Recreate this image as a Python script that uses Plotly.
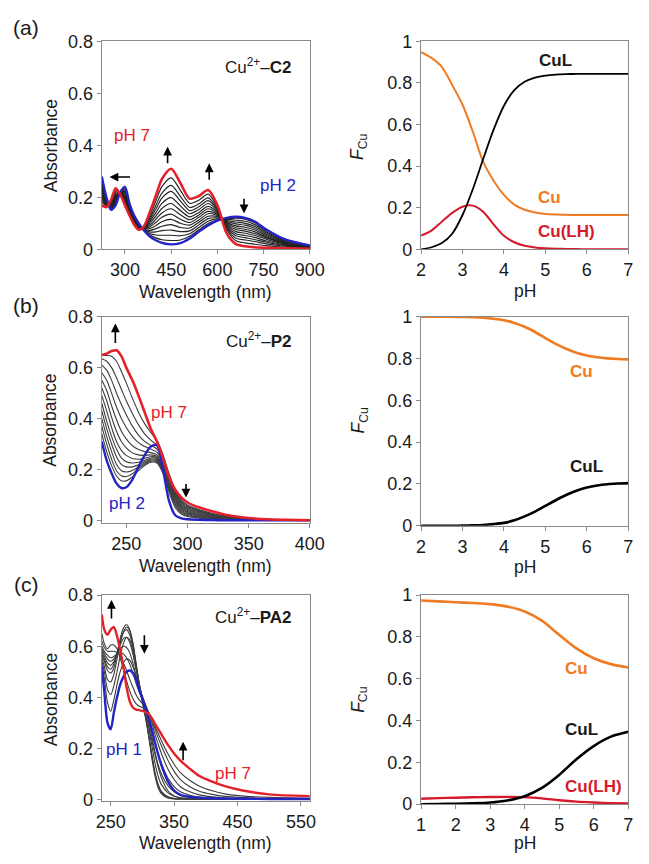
import plotly.graph_objects as go

W, H = 649, 864
FONT = "Liberation Sans, Arial, Helvetica, sans-serif"

# ---------------- (a) Cu2+-C2 spectra ----------------
wl_a = [225, 240, 255, 270, 285, 300, 315, 330, 345, 360, 380, 400, 420, 450, 480, 510,
        540, 570, 600, 630, 660, 690, 720, 760, 820, 900]
abs_a_ph7 = [0.17, 0.162, 0.19, 0.235, 0.21, 0.17, 0.13, 0.095, 0.075, 0.085, 0.14, 0.205, 0.27,
             0.31, 0.255, 0.195, 0.205, 0.228, 0.17, 0.062, 0.02, 0.012, 0.008, 0.006, 0.004, 0.002]
abs_a_ph2 = [0.28, 0.2, 0.152, 0.17, 0.22, 0.24, 0.175, 0.13, 0.1, 0.075, 0.05, 0.035, 0.025,
             0.019, 0.024, 0.042, 0.068, 0.092, 0.11, 0.121, 0.125, 0.121, 0.108, 0.075, 0.038, 0.015]
abs_a_mid = [
    [0.274, 0.198, 0.154, 0.173, 0.22, 0.237, 0.173, 0.128, 0.099, 0.076, 0.055, 0.044, 0.037, 0.034, 0.036, 0.05, 0.075, 0.099, 0.113, 0.118, 0.12, 0.116, 0.103, 0.072, 0.036, 0.014],
    [0.267, 0.195, 0.157, 0.178, 0.219, 0.232, 0.17, 0.126, 0.097, 0.076, 0.061, 0.055, 0.054, 0.054, 0.052, 0.06, 0.084, 0.108, 0.117, 0.115, 0.112, 0.108, 0.096, 0.067, 0.034, 0.013],
    [0.259, 0.193, 0.159, 0.182, 0.218, 0.227, 0.166, 0.123, 0.095, 0.077, 0.067, 0.067, 0.072, 0.074, 0.068, 0.071, 0.094, 0.118, 0.121, 0.111, 0.105, 0.1, 0.089, 0.062, 0.032, 0.013],
    [0.251, 0.19, 0.162, 0.187, 0.217, 0.222, 0.163, 0.121, 0.094, 0.078, 0.073, 0.079, 0.089, 0.095, 0.084, 0.082, 0.104, 0.127, 0.126, 0.108, 0.098, 0.093, 0.082, 0.057, 0.029, 0.012],
    [0.244, 0.187, 0.165, 0.192, 0.217, 0.217, 0.16, 0.118, 0.092, 0.078, 0.08, 0.091, 0.106, 0.115, 0.1, 0.093, 0.113, 0.137, 0.13, 0.104, 0.09, 0.085, 0.075, 0.052, 0.027, 0.011],
    [0.236, 0.185, 0.167, 0.196, 0.216, 0.212, 0.157, 0.116, 0.09, 0.079, 0.086, 0.103, 0.123, 0.135, 0.116, 0.103, 0.123, 0.146, 0.134, 0.101, 0.083, 0.077, 0.068, 0.047, 0.024, 0.01],
    [0.228, 0.182, 0.17, 0.201, 0.215, 0.207, 0.154, 0.114, 0.088, 0.08, 0.092, 0.115, 0.14, 0.156, 0.133, 0.114, 0.132, 0.156, 0.138, 0.097, 0.076, 0.07, 0.061, 0.043, 0.022, 0.009],
    [0.221, 0.18, 0.173, 0.205, 0.215, 0.202, 0.151, 0.111, 0.087, 0.08, 0.099, 0.127, 0.157, 0.176, 0.149, 0.125, 0.142, 0.165, 0.142, 0.094, 0.068, 0.062, 0.054, 0.038, 0.02, 0.008],
    [0.212, 0.176, 0.176, 0.21, 0.214, 0.197, 0.147, 0.108, 0.085, 0.081, 0.106, 0.14, 0.177, 0.199, 0.167, 0.137, 0.153, 0.176, 0.147, 0.089, 0.06, 0.053, 0.046, 0.032, 0.017, 0.007],
    [0.203, 0.173, 0.179, 0.216, 0.213, 0.191, 0.144, 0.106, 0.083, 0.082, 0.113, 0.154, 0.197, 0.223, 0.186, 0.149, 0.164, 0.187, 0.152, 0.085, 0.052, 0.045, 0.038, 0.027, 0.014, 0.006],
    [0.194, 0.17, 0.182, 0.221, 0.212, 0.185, 0.14, 0.103, 0.081, 0.083, 0.12, 0.168, 0.216, 0.246, 0.204, 0.161, 0.175, 0.198, 0.157, 0.081, 0.043, 0.036, 0.03, 0.021, 0.012, 0.005],
    [0.183, 0.167, 0.185, 0.227, 0.211, 0.178, 0.135, 0.099, 0.078, 0.084, 0.129, 0.185, 0.241, 0.275, 0.227, 0.177, 0.189, 0.212, 0.163, 0.076, 0.033, 0.025, 0.02, 0.014, 0.008, 0.004],
]

# ---------------- (b) Cu2+-P2 spectra ----------------
wl_b = [230, 234, 238, 242, 246, 250, 255, 260, 265, 270, 275, 280, 285, 290, 295, 300,
        310, 320, 330, 340, 350, 365, 380, 400]
abs_b_ph7 = [0.65, 0.655, 0.665, 0.668, 0.645, 0.6, 0.55, 0.49, 0.425, 0.36, 0.31, 0.245, 0.17,
             0.12, 0.09, 0.07, 0.05, 0.036, 0.023, 0.015, 0.009, 0.004, 0.002, 0.0]
abs_b_ph2 = [0.31, 0.235, 0.185, 0.145, 0.127, 0.13, 0.16, 0.21, 0.255, 0.29, 0.295, 0.2, 0.075,
             0.02, 0.008, 0.004, 0.002, 0.001, 0.0, 0.0, 0.0, 0.0, 0.0, 0.0]
abs_b_mid = [
    [0.34, 0.27, 0.215, 0.175, 0.155, 0.155, 0.17, 0.195, 0.215, 0.228, 0.225, 0.185, 0.11, 0.05, 0.025, 0.015, 0.008, 0.005, 0.003, 0.002, 0.001, 0.0, 0.0, 0.0],
    [0.37, 0.3, 0.24, 0.195, 0.175, 0.172, 0.183, 0.203, 0.22, 0.232, 0.23, 0.19, 0.118, 0.058, 0.03, 0.019, 0.011, 0.007, 0.004, 0.003, 0.002, 0.001, 0.0, 0.0],
    [0.4, 0.33, 0.27, 0.22, 0.195, 0.19, 0.196, 0.21, 0.225, 0.236, 0.234, 0.195, 0.125, 0.065, 0.035, 0.023, 0.013, 0.008, 0.005, 0.004, 0.002, 0.001, 0.0, 0.0],
    [0.43, 0.36, 0.3, 0.25, 0.22, 0.21, 0.21, 0.218, 0.23, 0.24, 0.238, 0.2, 0.132, 0.072, 0.04, 0.027, 0.016, 0.01, 0.006, 0.004, 0.003, 0.001, 0.0, 0.0],
    [0.46, 0.39, 0.33, 0.28, 0.245, 0.23, 0.225, 0.228, 0.236, 0.245, 0.242, 0.205, 0.138, 0.078, 0.045, 0.031, 0.019, 0.012, 0.008, 0.005, 0.003, 0.001, 0.0, 0.0],
    [0.49, 0.43, 0.365, 0.31, 0.275, 0.255, 0.243, 0.24, 0.244, 0.25, 0.247, 0.21, 0.145, 0.085, 0.05, 0.035, 0.022, 0.014, 0.009, 0.006, 0.004, 0.002, 0.001, 0.0],
    [0.52, 0.47, 0.405, 0.35, 0.31, 0.285, 0.265, 0.257, 0.255, 0.257, 0.252, 0.215, 0.15, 0.09, 0.055, 0.039, 0.025, 0.016, 0.01, 0.007, 0.004, 0.002, 0.001, 0.0],
    [0.55, 0.51, 0.45, 0.395, 0.35, 0.32, 0.293, 0.278, 0.27, 0.266, 0.258, 0.222, 0.157, 0.096, 0.06, 0.043, 0.028, 0.018, 0.012, 0.008, 0.005, 0.002, 0.001, 0.0],
    [0.58, 0.55, 0.5, 0.445, 0.4, 0.365, 0.33, 0.305, 0.29, 0.28, 0.268, 0.23, 0.163, 0.102, 0.065, 0.047, 0.031, 0.02, 0.013, 0.009, 0.005, 0.002, 0.001, 0.0],
    [0.61, 0.59, 0.55, 0.5, 0.455, 0.415, 0.37, 0.335, 0.31, 0.295, 0.28, 0.238, 0.168, 0.107, 0.07, 0.051, 0.034, 0.023, 0.015, 0.01, 0.006, 0.003, 0.001, 0.0],
    [0.635, 0.625, 0.6, 0.56, 0.515, 0.47, 0.42, 0.375, 0.34, 0.315, 0.295, 0.246, 0.175, 0.112, 0.075, 0.055, 0.037, 0.025, 0.016, 0.011, 0.007, 0.003, 0.001, 0.0],
    [0.648, 0.648, 0.645, 0.625, 0.585, 0.54, 0.48, 0.425, 0.38, 0.345, 0.315, 0.258, 0.183, 0.118, 0.08, 0.06, 0.041, 0.028, 0.018, 0.012, 0.007, 0.003, 0.001, 0.0],
]

# ---------------- (c) Cu2+-PA2 spectra ----------------
wl_c = [236, 240, 245, 250, 255, 260, 265, 270, 275, 280, 285, 290, 295, 300, 305, 310, 315,
        320, 325, 330, 340, 350, 360, 375, 390, 410, 430, 460, 500, 564]
abs_c_ph7 = [0.725, 0.665, 0.645, 0.665, 0.675, 0.64, 0.585, 0.52, 0.44, 0.385, 0.36, 0.352, 0.35,
             0.347, 0.342, 0.335, 0.318, 0.295, 0.275, 0.255, 0.215, 0.18, 0.152, 0.12, 0.092,
             0.07, 0.052, 0.034, 0.02, 0.013]
abs_c_ph1 = [0.52, 0.42, 0.3, 0.275, 0.34, 0.4, 0.45, 0.48, 0.5, 0.505, 0.495, 0.47, 0.43, 0.395,
             0.355, 0.315, 0.27, 0.22, 0.175, 0.135, 0.072, 0.035, 0.018, 0.01, 0.007, 0.005,
             0.004, 0.003, 0.002, 0.002]
abs_c_mid = [
    [0.53, 0.47, 0.38, 0.345, 0.39, 0.45, 0.5, 0.535, 0.55, 0.545, 0.52, 0.48, 0.43, 0.385, 0.335, 0.285, 0.23, 0.175, 0.125, 0.085, 0.035, 0.014, 0.007, 0.004, 0.003, 0.002, 0.002, 0.001, 0.001, 0.001],
    [0.545, 0.5, 0.43, 0.41, 0.445, 0.5, 0.56, 0.61, 0.635, 0.625, 0.58, 0.51, 0.44, 0.38, 0.32, 0.25, 0.17, 0.1, 0.055, 0.028, 0.008, 0.003, 0.002, 0.001, 0.001, 0.001, 0.001, 0.0, 0.0, 0.0],
    [0.555, 0.52, 0.47, 0.46, 0.49, 0.55, 0.61, 0.655, 0.675, 0.66, 0.61, 0.53, 0.45, 0.385, 0.32, 0.245, 0.16, 0.09, 0.045, 0.022, 0.006, 0.002, 0.001, 0.001, 0.0, 0.0, 0.0, 0.0, 0.0, 0.0],
    [0.565, 0.54, 0.505, 0.495, 0.515, 0.57, 0.63, 0.67, 0.685, 0.665, 0.615, 0.535, 0.455, 0.39, 0.325, 0.255, 0.175, 0.105, 0.058, 0.032, 0.012, 0.005, 0.003, 0.002, 0.001, 0.001, 0.0, 0.0, 0.0, 0.0],
    [0.57, 0.55, 0.52, 0.51, 0.53, 0.575, 0.62, 0.655, 0.665, 0.645, 0.595, 0.525, 0.455, 0.395, 0.34, 0.28, 0.21, 0.14, 0.09, 0.058, 0.027, 0.013, 0.007, 0.004, 0.003, 0.002, 0.001, 0.001, 0.0, 0.0],
    [0.58, 0.56, 0.535, 0.525, 0.54, 0.57, 0.605, 0.63, 0.635, 0.615, 0.57, 0.51, 0.45, 0.4, 0.355, 0.305, 0.245, 0.185, 0.135, 0.1, 0.055, 0.03, 0.017, 0.009, 0.005, 0.003, 0.002, 0.001, 0.001, 0.0],
    [0.59, 0.57, 0.55, 0.54, 0.55, 0.57, 0.59, 0.6, 0.595, 0.575, 0.535, 0.485, 0.44, 0.405, 0.37, 0.33, 0.28, 0.225, 0.18, 0.14, 0.085, 0.05, 0.03, 0.016, 0.009, 0.005, 0.003, 0.002, 0.001, 0.001],
    [0.6, 0.58, 0.565, 0.555, 0.56, 0.57, 0.575, 0.57, 0.555, 0.53, 0.495, 0.455, 0.42, 0.395, 0.37, 0.34, 0.3, 0.255, 0.215, 0.18, 0.12, 0.078, 0.05, 0.03, 0.018, 0.01, 0.006, 0.004, 0.003, 0.002],
    [0.62, 0.595, 0.58, 0.58, 0.58, 0.575, 0.56, 0.535, 0.505, 0.47, 0.44, 0.41, 0.39, 0.375, 0.36, 0.34, 0.31, 0.275, 0.24, 0.21, 0.155, 0.11, 0.078, 0.05, 0.032, 0.02, 0.012, 0.007, 0.004, 0.003],
    [0.65, 0.61, 0.59, 0.605, 0.605, 0.59, 0.555, 0.51, 0.465, 0.425, 0.395, 0.375, 0.365, 0.36, 0.352, 0.338, 0.315, 0.285, 0.258, 0.23, 0.18, 0.138, 0.105, 0.074, 0.052, 0.034, 0.022, 0.013, 0.008, 0.005],
]

# ---------------- species distributions ----------------
ph_ab = [2.0, 2.25, 2.5, 2.75, 3.0, 3.25, 3.5, 3.75, 4.0, 4.25, 4.5, 4.75, 5.0, 5.25, 5.5,
         5.75, 6.0, 6.25, 6.5, 6.75, 7.0]
fa_cu = [0.948, 0.92, 0.877, 0.79, 0.695, 0.565, 0.42, 0.33, 0.262, 0.215, 0.19, 0.177, 0.17,
         0.167, 0.166, 0.165, 0.165, 0.165, 0.165, 0.165, 0.165]
fa_cul = [0.0, 0.01, 0.03, 0.075, 0.165, 0.29, 0.435, 0.575, 0.69, 0.765, 0.805, 0.825, 0.835,
          0.84, 0.842, 0.843, 0.843, 0.843, 0.843, 0.843, 0.843]
fa_culh = [0.066, 0.09, 0.133, 0.175, 0.205, 0.21, 0.18, 0.12, 0.065, 0.034, 0.017, 0.009,
           0.005, 0.003, 0.002, 0.001, 0.0, 0.0, 0.0, 0.0, 0.0]
fb_cu = [1.0, 1.0, 1.0, 1.0, 0.999, 0.998, 0.995, 0.99, 0.983, 0.97, 0.952, 0.927, 0.898, 0.87,
         0.847, 0.828, 0.815, 0.806, 0.801, 0.798, 0.796]
fb_cul = [0.0, 0.0, 0.0, 0.0, 0.001, 0.002, 0.004, 0.008, 0.014, 0.026, 0.045, 0.068, 0.095,
          0.122, 0.147, 0.168, 0.183, 0.193, 0.199, 0.202, 0.204]
ph_c = [1.0, 1.5, 2.0, 2.5, 3.0, 3.5, 4.0, 4.5, 5.0, 5.5, 6.0, 6.5, 7.0]
fc_cu = [0.974, 0.97, 0.966, 0.962, 0.957, 0.945, 0.922, 0.878, 0.81, 0.745, 0.698, 0.67, 0.654]
fc_cul = [0.0, 0.001, 0.002, 0.004, 0.008, 0.018, 0.038, 0.078, 0.14, 0.215, 0.278, 0.323, 0.346]
fc_culh = [0.026, 0.029, 0.031, 0.033, 0.034, 0.035, 0.034, 0.028, 0.019, 0.012, 0.008, 0.005, 0.003]

RED = "#e4202a"
BLUE = "#2424c4"
ORANGE = "#ef7b22"
CRED = "#d41a2c"
GREY = "#8a8a8a"

fig = go.Figure()


def spec(x, y, ax, color, width):
    fig.add_trace(go.Scatter(x=x, y=y, mode="lines", xaxis="x" + ax, yaxis="y" + ax,
                             line=dict(color=color, width=width, shape="spline", smoothing=0.8),
                             hoverinfo="skip", showlegend=False))


for row in abs_a_mid:
    spec(wl_a, row, "", "#222222", 1.15)
spec(wl_a, abs_a_ph2, "", BLUE, 2.4)
spec(wl_a, abs_a_ph7, "", RED, 2.6)

for row in abs_b_mid:
    spec(wl_b, row, "3", "#3c3c3c", 1.1)
spec(wl_b, abs_b_ph2, "3", BLUE, 2.4)
spec(wl_b, abs_b_ph7, "3", RED, 2.6)

for row in abs_c_mid:
    spec(wl_c, row, "5", "#3c3c3c", 1.1)
spec(wl_c, abs_c_ph1, "5", BLUE, 2.4)
spec(wl_c, abs_c_ph7, "5", RED, 2.4)

spec(ph_ab, fa_cu, "2", ORANGE, 2.0)
spec(ph_ab, fa_culh, "2", CRED, 2.0)
spec(ph_ab, fa_cul, "2", "black", 1.8)

spec(ph_ab, fb_cu, "4", ORANGE, 2.6)
spec(ph_ab, fb_cul, "4", "black", 2.6)

spec(ph_c, fc_culh, "6", CRED, 2.4)
spec(ph_c, fc_cu, "6", ORANGE, 2.6)
spec(ph_c, fc_cul, "6", "black", 2.6)

boxes = {
    "": (99, 314, 32, 245), "2": (429, 643, 32, 245),
    "3": (99, 314, 314, 525), "4": (429, 643, 314, 528),
    "5": (99, 314, 599, 810), "6": (429, 643, 599, 813),
}
xranges = {"": [225, 900], "2": [2, 7], "3": [230, 400], "4": [2, 7], "5": [236, 564], "6": [1, 7]}
xticks = {"": [300, 450, 600, 750, 900], "2": [2, 3, 4, 5, 6, 7], "3": [250, 300, 350, 400],
          "4": [2, 3, 4, 5, 6, 7], "5": [250, 350, 450, 550], "6": [1, 2, 3, 4, 5, 6, 7]}
yranges = {"": [0, 0.8], "2": [0, 1], "3": [-0.01, 0.8], "4": [0, 1], "5": [-0.007, 0.8], "6": [0, 1]}
yticks = {"": [0, 0.2, 0.4, 0.6, 0.8], "2": [0, 0.2, 0.4, 0.6, 0.8, 1],
          "3": [0, 0.2, 0.4, 0.6, 0.8], "4": [0, 0.2, 0.4, 0.6, 0.8, 1],
          "5": [0, 0.2, 0.4, 0.6, 0.8], "6": [0, 0.2, 0.4, 0.6, 0.8, 1]}

axstyle = dict(showline=True, mirror=True, linecolor=GREY, linewidth=1.3, ticks="outside",
               ticklen=4, tickwidth=1.2, tickcolor=GREY, showgrid=False, zeroline=False,
               tickfont=dict(size=18, color="#1a1a1a", family=FONT))

layout = {}
for k, (x0, x1, y0, y1) in boxes.items():
    layout["xaxis" + k] = dict(axstyle, domain=[x0 / W, x1 / W], range=xranges[k],
                               tickvals=xticks[k], anchor="y" + k)
    layout["yaxis" + k] = dict(axstyle, domain=[1 - y1 / H, 1 - y0 / H], range=yranges[k],
                               tickvals=yticks[k], anchor="x" + k)


def txt(s, x, y, size=17, color="#1a1a1a", xanchor="center", angle=0):
    return dict(text=s, x=x / W, y=1 - y / H, xref="paper", yref="paper", showarrow=False,
                xanchor=xanchor, yanchor="middle", textangle=angle,
                font=dict(size=size, color=color, family=FONT))


def arrow(hx, hy, tx, ty):
    return dict(text="", x=hx / W, y=1 - hy / H, xref="paper", yref="paper",
                ax=tx - hx, ay=ty - hy, showarrow=True, arrowhead=2, arrowsize=1.1,
                arrowwidth=1.6, arrowcolor="black", font=dict(size=12))


ann = [
    txt("(a)", 21, 18, 21), txt("(b)", 21, 303, 21), txt("(c)", 21, 588, 21),
    txt("Absorbance", 46, 139, 17.5, angle=-90), txt("Absorbance", 46, 420, 17.5, angle=-90),
    txt("Absorbance", 46, 706, 17.5, angle=-90),
    txt("Wavelength (nm)", 206, 289, 17.5), txt("Wavelength (nm)", 206, 569, 17.5),
    txt("Wavelength (nm)", 206, 853, 17.5),
    txt("<i>F</i><sub>Cu</sub>", 365, 140, 17.5, angle=-90),
    txt("<i>F</i><sub>Cu</sub>", 365, 420, 17.5, angle=-90),
    txt("<i>F</i><sub>Cu</sub>", 365, 706, 17.5, angle=-90),
    txt("pH", 536, 288, 17.5), txt("pH", 536, 570, 17.5), txt("pH", 536, 853, 17.5),
    txt("Cu<sup>2+</sup>–<b>C2</b>", 298, 57, xanchor="right"),
    txt("pH 7", 130, 128, color=RED), txt("pH 2", 281, 180, color=BLUE),
    arrow(107, 171, 129, 171), arrow(167, 140, 167, 158), arrow(210, 157, 210, 175),
    arrow(246, 208, 246, 192),
    txt("Cu<sup>2+</sup>–<b>P2</b>", 298, 338, xanchor="right"),
    txt("pH 7", 168, 412, color=RED), txt("pH 2", 125, 505, color=BLUE),
    arrow(113, 321, 113, 342), arrow(186, 499, 186, 484),
    txt("Cu<sup>2+</sup>–<b>PA2</b>", 298, 620, xanchor="right"),
    txt("pH 1", 122, 757, color=BLUE), txt("pH 7", 235, 782, color=RED),
    arrow(109, 604, 109, 624), arrow(143, 659, 143, 639), arrow(183, 749, 183, 769),
    txt("<b>CuL</b>", 568, 52), txt("<b>Cu</b>", 562, 192, color=ORANGE),
    txt("<b>Cu(LH)</b>", 579, 227, color=CRED),
    txt("<b>Cu</b>", 595, 370, color=ORANGE), txt("<b>CuL</b>", 600, 467),
    txt("<b>Cu</b>", 590, 674, color=ORANGE), txt("<b>CuL</b>", 595, 737),
    txt("<b>Cu(LH)</b>", 607, 795, color=CRED),
]

fig.update_layout(width=W, height=H, margin=dict(l=0, r=0, t=0, b=0),
                  paper_bgcolor="white", plot_bgcolor="white", showlegend=False,
                  font=dict(family=FONT, size=17, color="#1a1a1a"),
                  annotations=ann, **layout)

fig.write_html(
    "out.html", config={"displayModeBar": False},
    post_script=(
        "document.documentElement.style.margin='0px';"
        "document.documentElement.style.overflow='hidden';"
        "document.body.style.margin='0px';"
        "document.body.style.overflow='hidden';"
        "var gd=document.getElementsByClassName('plotly-graph-div')[0];"
        "gd.style.position='fixed';gd.style.left='0px';gd.style.top='0px';"
    ),
)
